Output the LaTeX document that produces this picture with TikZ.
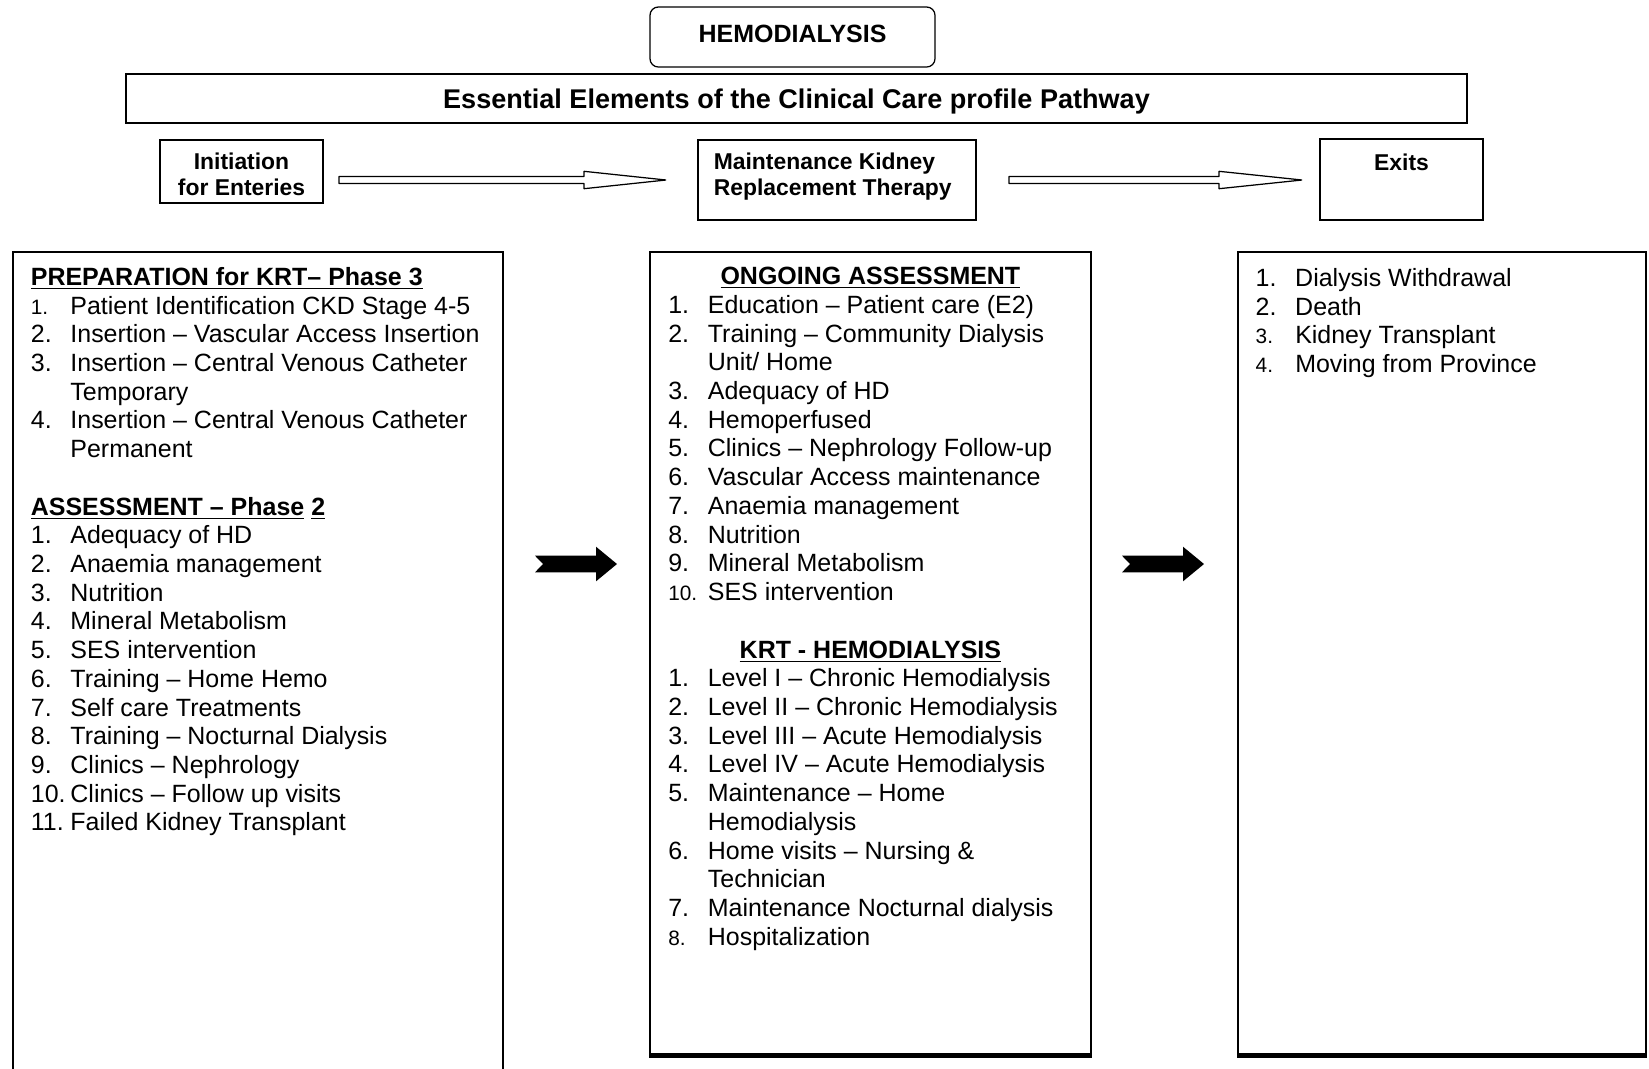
\documentclass[tikz,border=0pt]{standalone}
\usepackage{fontspec}
\setmainfont{Liberation Sans}
\usetikzlibrary{positioning}

\newcommand{\pxu}{0.4805pt}
\newcommand{\numw}{19pt}
\newcommand{\li}[2]{\makebox[\numw][l]{#1}#2}
\newcommand{\lc}[1]{\hspace*{\numw}#1}
\newcommand{\smno}[1]{{\fontsize{10}{13.8}\selectfont #1}}

\begin{document}
\begin{tikzpicture}[x=0.4805pt, y=-0.4805pt]
\tikzstyle{box} = [rectangle, draw, line width=0.6pt, inner sep=0pt]
\tikzstyle{boxtitle} = [font=\fontsize{11}{12.5}\selectfont\bfseries, inner sep=0pt]
\tikzstyle{listing} = [font=\fontsize{12}{13.8}\selectfont, align=left, inner sep=0pt]
\tikzstyle{hollow} = [draw, line width=0.6pt, line join=bevel]
\tikzstyle{blockarrow} = [fill=black]

\useasboundingbox (0,0) rectangle (1649,1068);

% title rows
\node [box, rounded corners=4pt, minimum width=285*\pxu, minimum height=60*\pxu, font=\fontsize{12}{13.8}\selectfont\bfseries, text depth=3.2pt] (hemo) at (792.5,37) {HEMODIALYSIS};
\node [box, minimum width=1341*\pxu, minimum height=49*\pxu, font=\fontsize{13}{15}\selectfont\bfseries, text depth=0pt] (pathway) at (796.5,98.5) {Essential Elements of the Clinical Care profile Pathway};

% stages
\node [box, minimum width=163*\pxu, minimum height=63*\pxu] (init) at (241.5,171.5) {};
\node [boxtitle, align=center, below=6.1pt of init.north] (initText) {Initiation\\for Enteries};
\node [box, minimum width=278*\pxu, minimum height=80*\pxu] (maint) at (837,180) {};
\node [boxtitle, align=left, below right=6.1pt and 7.7pt of maint.north west] (maintText) {Maintenance Kidney\\Replacement Therapy};
\node [box, minimum width=163*\pxu, minimum height=81*\pxu] (exits) at (1401.5,179.5) {};
\node [boxtitle, below=7.3pt of exits.north] (exitsText) {Exits};

% hollow arrows between stages
\draw [hollow] (339,176.5) -- (584,176.5) -- (584,171.3) -- (666,180) -- (584,188.7) -- (584,183.5) -- (339,183.5) -- cycle;
\draw [hollow] (1009,176.5) -- (1219,176.5) -- (1219,171.3) -- (1302,180) -- (1219,188.7) -- (1219,183.5) -- (1009,183.5) -- cycle;

% columns
\node [box, minimum width=490*\pxu, minimum height=838*\pxu] (prep) at (258,671) {};
\node [box, minimum width=441*\pxu, minimum height=802*\pxu] (ongoing) at (870.5,653) {};
\node [box, minimum width=408*\pxu, minimum height=802*\pxu] (outcome) at (1442,653) {};
\draw [line width=1.2pt] ([yshift=-0.9pt]ongoing.south west) -- ([yshift=-0.9pt]ongoing.south east);
\draw [line width=1.2pt] ([yshift=-0.9pt]outcome.south west) -- ([yshift=-0.9pt]outcome.south east);

% black arrows between columns
\path [blockarrow] (535,555.7) -- (596,555.7) -- (596,546.7) -- (617,564) -- (596,581.3) -- (596,572.3) -- (535,572.3) -- (543,564) -- cycle;
\path [blockarrow] (1122,555.7) -- (1183,555.7) -- (1183,546.7) -- (1204,564) -- (1183,581.3) -- (1183,572.3) -- (1122,572.3) -- (1130,564) -- cycle;

% column 1
\node [listing, below right=7.4pt and 8.7pt of prep.north west] (prepList) {%
\underline{\textbf{PREPARATION for KRT– Phase 3}}\\
\li{\smno{1.}}{Patient Identification CKD Stage 4-5}\\
\li{2.}{Insertion – Vascular Access Insertion}\\
\li{3.}{Insertion – Central Venous Catheter}\\
\lc{Temporary}\\
\li{4.}{Insertion – Central Venous Catheter}\\
\lc{Permanent}\\[13.8pt]
\underline{\textbf{ASSESSMENT – Phase}} \underline{\textbf{2}}\\
\li{1.}{Adequacy of HD}\\
\li{2.}{Anaemia management}\\
\li{3.}{Nutrition}\\
\li{4.}{Mineral Metabolism}\\
\li{5.}{SES intervention}\\
\li{6.}{Training – Home Hemo}\\
\li{7.}{Self care Treatments}\\
\li{8.}{Training – Nocturnal Dialysis}\\
\li{9.}{Clinics – Nephrology}\\
\li{10.}{Clinics – Follow up visits}\\
\li{11.}{Failed Kidney Transplant}};

% column 2
\node [listing, below right=7.4pt and 8.9pt of ongoing.north west] (ongoingList) {%
\makebox[194.2pt]{\underline{\textbf{ONGOING ASSESSMENT}}}\\
\li{1.}{Education – Patient care (E2)}\\
\li{2.}{Training – Community Dialysis}\\
\lc{Unit/ Home}\\
\li{3.}{Adequacy of HD}\\
\li{4.}{Hemoperfused}\\
\li{5.}{Clinics – Nephrology Follow-up}\\
\li{6.}{Vascular Access maintenance}\\
\li{7.}{Anaemia management}\\
\li{8.}{Nutrition}\\
\li{9.}{Mineral Metabolism}\\
\li{\smno{10.}}{SES intervention}\\[13.8pt]
\makebox[194.2pt]{\underline{\textbf{KRT - HEMODIALYSIS}}}\\
\li{1.}{Level I – Chronic Hemodialysis}\\
\li{2.}{Level II – Chronic Hemodialysis}\\
\li{3.}{Level III – Acute Hemodialysis}\\
\li{4.}{Level IV – Acute Hemodialysis}\\
\li{5.}{Maintenance – Home}\\
\lc{Hemodialysis}\\
\li{6.}{Home visits – Nursing \&}\\
\lc{Technician}\\
\li{7.}{Maintenance Nocturnal dialysis}\\
\li{\smno{8.}}{Hospitalization}};

% column 3
\node [listing, below right=7.9pt and 8.6pt of outcome.north west] (outcomeList) {%
\li{1.}{Dialysis Withdrawal}\\
\li{2.}{Death}\\
\li{\smno{3.}}{Kidney Transplant}\\
\li{\smno{4.}}{Moving from Province}};
\end{tikzpicture}
\end{document}
